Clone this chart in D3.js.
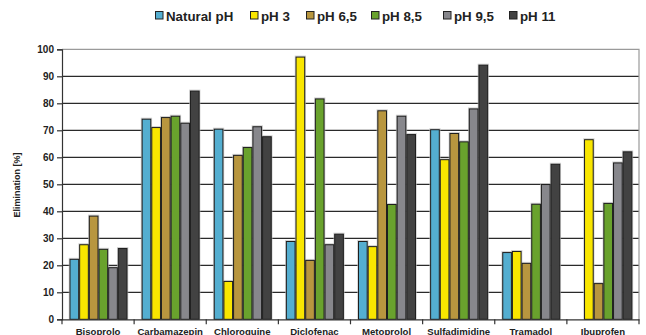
<!DOCTYPE html>
<html><head><meta charset="utf-8">
<script src="https://cdn.jsdelivr.net/npm/d3@7"></script>
<style>html,body{margin:0;padding:0;background:#fff;overflow:hidden}svg{display:block}</style>
</head><body>
<script>
const categories = ["Bisoprolo","Carbamazepin","Chloroquine","Diclofenac","Metoprolol","Sulfadimidine","Tramadol","Ibuprofen"];
const seriesNames = ["Natural pH","pH 3","pH 6,5","pH 8,5","pH 9,5","pH 11"];
const seriesColors = ["#54aed0","#f9e600","#b8963f","#69a22d","#87878c","#424242"];
const naturalPH = [22.4, 74.3, 70.6, 29.0, 29.0, 70.4, 24.9, null];
const pH3       = [27.8, 71.2, 14.2, 97.3, 27.1, 59.3, 25.3, 66.7];
const pH65      = [38.4, 74.9, 60.9, 22.0, 77.4, 69.0, 20.9, 13.4];
const pH85      = [26.1, 75.4, 63.8, 81.8, 42.7, 65.9, 42.8, 43.1];
const pH95      = [19.3, 72.8, 71.5, 27.8, 75.4, 78.1, 50.1, 58.1];
const pH11      = [26.4, 84.7, 67.8, 31.7, 68.6, 94.3, 57.6, 62.2];
const seriesValues = [naturalPH, pH3, pH65, pH85, pH95, pH11];
const yTicks = [0,10,20,30,40,50,60,70,80,90,100];

const W = 646, H = 335;
const svg = d3.select("body").append("svg").attr("width", W).attr("height", H)
  .style("font-family", "'Liberation Sans', Arial, sans-serif");

const L = 62, R = 639, T = 49.3, B = 319.3;
const x0 = d3.scaleBand().domain(categories).range([L, R]).padding(0);
const x1 = d3.scaleBand().domain(seriesNames).range([7.5, 65.5]).padding(0);
const y = d3.scaleLinear().domain([0, 100]).range([B, T]);

// gridlines
svg.append("g").selectAll("line").data(yTicks.filter(d => d > 0 && d < 100)).join("line")
  .attr("x1", L).attr("x2", R).attr("y1", d => y(d)).attr("y2", d => y(d))
  .attr("stroke", "#2a2a2a").attr("stroke-width", 1.2);
// top and right border
svg.append("path").attr("d", `M${L},${y(100)}H${R}V${B}`).attr("fill", "none")
  .attr("stroke", "#9a9a9a").attr("stroke-width", 1.2);

// bars
const bars = [];
seriesValues.forEach((vals, j) => vals.forEach((v, i) => {
  if (v != null) bars.push({ cat: categories[i], s: seriesNames[j], v, c: seriesColors[j] });
}));
const g = svg.append("g");
g.selectAll("rect.sh").data(bars).join("rect").attr("class", "sh")
  .attr("x", d => x0(d.cat) + x1(d.s) - 0.8)
  .attr("y", d => y(d.v) - 1)
  .attr("width", x1.bandwidth() + 1.6)
  .attr("height", d => B - y(d.v) + 1)
  .attr("fill", "#bdbdbd").attr("opacity", 0.7);
g.selectAll("rect.bar").data(bars).join("rect").attr("class", "bar")
  .attr("x", d => x0(d.cat) + x1(d.s) + 0.5)
  .attr("y", d => y(d.v) + 0.5)
  .attr("width", x1.bandwidth() - 1)
  .attr("height", d => B - y(d.v) - 0.5)
  .attr("fill", d => d.c).attr("stroke", "#1e1e1e").attr("stroke-width", 1);

// y axis
const ya = svg.append("g").attr("transform", `translate(${L},0)`)
  .call(d3.axisLeft(y).tickValues(yTicks).tickSize(5).tickPadding(3));
ya.select(".domain").attr("stroke", "#333").attr("stroke-width", 1.2);
ya.selectAll(".tick line").attr("stroke", "#333").attr("stroke-width", 1.2);
ya.selectAll("text").attr("font-size", "10px").attr("font-weight", "bold").attr("fill", "#222")
  .attr("font-family", "'Liberation Sans', Arial, sans-serif");

// x axis
const xa = svg.append("g").attr("transform", `translate(0,${B})`)
  .call(d3.axisBottom(x0).tickSize(0).tickPadding(0));
xa.select(".domain").attr("stroke", "#333").attr("stroke-width", 1.2);
xa.selectAll(".tick text").attr("y", 16).attr("dy", 0)
  .attr("font-size", "9.6px").attr("font-weight", "bold").attr("fill", "#222")
  .attr("font-family", "'Liberation Sans', Arial, sans-serif");
// category boundary ticks
svg.append("g").selectAll("line").data(d3.range(categories.length + 1)).join("line")
  .attr("x1", i => L + x0.step() * i).attr("x2", i => L + x0.step() * i)
  .attr("y1", B).attr("y2", B + 5).attr("stroke", "#333").attr("stroke-width", 1.2);

// y label
svg.append("text").attr("transform", `translate(20,185) rotate(-90)`)
  .attr("text-anchor", "middle").attr("font-size", "9px").attr("font-weight", "bold")
  .attr("fill", "#222").text("Elimination [%]");

// legend
const legX = [155, 250, 306, 371, 443, 509];
const leg = svg.append("g");
seriesNames.forEach((n, j) => {
  leg.append("rect").attr("x", legX[j] + 0.5).attr("y", 11.5).attr("width", 7.5).attr("height", 7.5)
    .attr("fill", seriesColors[j]).attr("stroke", "#222").attr("stroke-width", 1);
  leg.append("text").attr("x", legX[j] + 11).attr("y", 21).attr("font-size", "13.3px")
    .attr("font-weight", "bold").attr("fill", "#222").text(n);
});
</script>
</body></html>
